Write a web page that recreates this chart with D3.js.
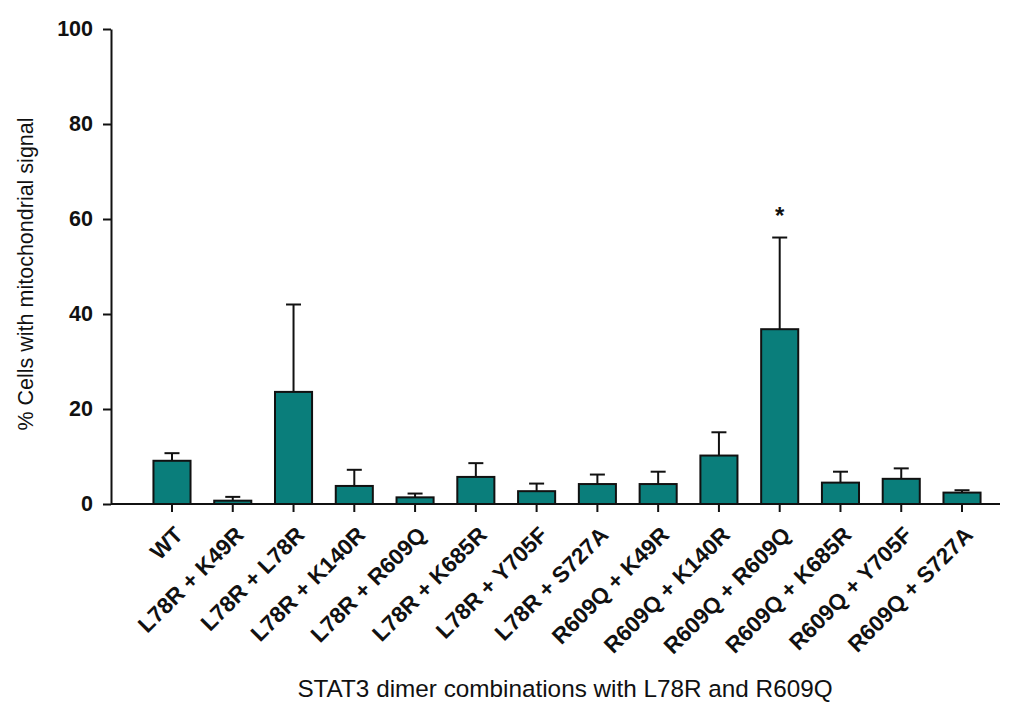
<!DOCTYPE html>
<html>
<head>
<meta charset="utf-8">
<script src="https://cdn.jsdelivr.net/npm/d3@7"></script>
<style>
  html, body { margin: 0; padding: 0; background: #fff; }
  svg { display: block; }
</style>
</head>
<body>
<script>
// ---- data ----
const categories = ["WT", "L78R + K49R", "L78R + L78R", "L78R + K140R", "L78R + R609Q",
  "L78R + K685R", "L78R + Y705F", "L78R + S727A", "R609Q + K49R", "R609Q + K140R",
  "R609Q + R609Q", "R609Q + K685R", "R609Q + Y705F", "R609Q + S727A"];
const means = [9.1, 0.7, 23.6, 3.8, 1.4, 5.7, 2.7, 4.2, 4.2, 10.2, 36.8, 4.5, 5.3, 2.4];
const errors = [1.6, 0.8, 18.4, 3.4, 0.8, 2.9, 1.6, 2.0, 2.6, 4.9, 19.3, 2.3, 2.2, 0.5];
const significant = ["R609Q + R609Q"];
const yTicks = [0, 20, 40, 60, 80, 100];
const yTitle = "% Cells with mitochondrial signal";
const xTitle = "STAT3 dimer combinations with L78R and R609Q";

const W = 1022, H = 707;
const svg = d3.select("body").append("svg").attr("width", W).attr("height", H);

const axisX = 111, baseY = 504, topY = 29;
const y = d3.scaleLinear().domain([0, 100]).range([baseY, topY]);
const x = d3.scaleBand().domain(categories).range([141.6, 992.4])
  .paddingInner(0.39).paddingOuter(0.195);

const barColor = "#0a7e7b";
const ink = "#111";
const font = "Liberation Sans, Arial, sans-serif";

// error bars (upper only)
const capW = 15;
const eb = svg.append("g").attr("stroke", ink).attr("stroke-width", 2).attr("fill", "none");
categories.forEach((c, i) => {
  const cx = x(c) + x.bandwidth() / 2;
  eb.append("line").attr("x1", cx).attr("x2", cx).attr("y1", y(means[i])).attr("y2", y(means[i] + errors[i]));
  eb.append("line").attr("x1", cx - capW / 2).attr("x2", cx + capW / 2)
    .attr("y1", y(means[i] + errors[i])).attr("y2", y(means[i] + errors[i]));
});

// bars
svg.append("g").selectAll("rect").data(categories).join("rect")
  .attr("x", d => x(d))
  .attr("width", x.bandwidth())
  .attr("y", (d, i) => y(means[i]))
  .attr("height", (d, i) => baseY - y(means[i]))
  .attr("fill", barColor)
  .attr("stroke", ink)
  .attr("stroke-width", 2);

// significance marker
significant.forEach(c => {
  const i = categories.indexOf(c);
  svg.append("text")
    .attr("x", x(c) + x.bandwidth() / 2)
    .attr("y", y(means[i] + errors[i]) - 14)
    .attr("text-anchor", "middle")
    .attr("font-family", font)
    .attr("font-weight", "bold")
    .attr("font-size", 24)
    .attr("fill", ink)
    .text("*");
});

// y axis
const yAxis = d3.axisLeft(y).tickValues(yTicks).tickSize(8).tickPadding(10).tickSizeOuter(0);
const gy = svg.append("g").attr("transform", `translate(${axisX},0)`).call(yAxis);
gy.select(".domain").attr("stroke", ink).attr("stroke-width", 2);
gy.selectAll(".tick line").attr("stroke", ink).attr("stroke-width", 2);
gy.selectAll(".tick text")
  .attr("font-family", font)
  .attr("font-weight", "bold")
  .attr("font-size", 21.5)
  .attr("fill", ink);

// x axis
const xAxis = d3.axisBottom(x).tickSize(8).tickSizeOuter(0).tickFormat("");
const gx = svg.append("g").attr("transform", `translate(0,${baseY})`).call(xAxis);
gx.select(".domain").attr("d", `M${axisX},0H1000`).attr("stroke", ink).attr("stroke-width", 2);
gx.selectAll(".tick line").attr("stroke", ink).attr("stroke-width", 2);
gx.selectAll(".tick").append("text")
  .attr("transform", "translate(1,21) rotate(-45)")
  .attr("text-anchor", "end")
  .attr("dy", "0.71em")
  .attr("font-family", font)
  .attr("font-weight", "bold")
  .attr("font-size", 22.5)
  .attr("fill", ink)
  .text(d => d);

// titles
svg.append("text")
  .attr("transform", `translate(33,${(115 + 433) / 2}) rotate(-90)`)
  .attr("text-anchor", "middle")
  .attr("font-family", font)
  .attr("font-size", 21.5)
  .attr("fill", ink)
  .text(yTitle);

svg.append("text")
  .attr("x", 565)
  .attr("y", 697)
  .attr("text-anchor", "middle")
  .attr("font-family", font)
  .attr("font-size", 24.3)
  .attr("fill", ink)
  .text(xTitle);
</script>
</body>
</html>
